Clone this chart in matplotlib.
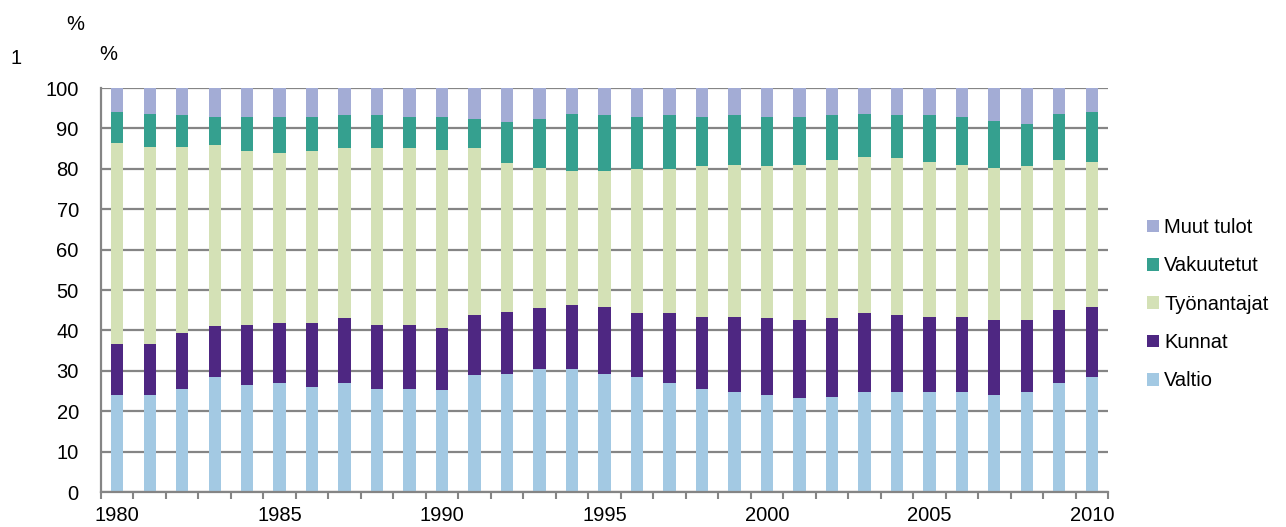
import matplotlib
matplotlib.use("Agg")
import matplotlib.pyplot as plt
import numpy as np

plt.rcParams['font.family'] = ['Liberation Sans', 'DejaVu Sans']

years = list(range(1980, 2011))

# shares in % (bottom to top)
valtio = [24.0, 24.0, 25.6, 28.5, 26.5, 26.9, 26.1, 26.9, 25.6, 25.6,
          25.2, 28.9, 29.3, 30.4, 30.4, 29.3, 28.5, 26.9, 25.6, 24.8,
          24.0, 23.2, 23.6, 24.8, 24.8, 24.8, 24.8, 24.0, 24.8, 26.9, 28.5]
kunnat = [12.6, 12.6, 13.8, 12.5, 14.9, 14.9, 15.7, 16.1, 15.8, 15.8,
          15.4, 14.9, 15.3, 15.1, 15.8, 16.6, 15.7, 17.3, 17.8, 18.6,
          19.0, 19.4, 19.4, 19.4, 19.0, 18.6, 18.6, 18.6, 17.8, 18.1, 17.4]
tyonantajat = [49.7, 48.9, 46.1, 44.9, 43.0, 42.1, 42.6, 42.1, 43.7, 43.7,
               44.1, 41.3, 36.8, 34.7, 33.3, 33.6, 35.7, 35.7, 37.2, 37.6,
               37.6, 38.4, 39.2, 38.8, 38.8, 38.4, 37.6, 37.6, 38.0, 37.2, 35.9]
vakuutetut = [7.7, 8.1, 7.7, 6.8, 8.3, 8.8, 8.3, 8.1, 8.1, 7.6,
              8.0, 7.2, 10.2, 12.1, 14.1, 13.7, 12.8, 13.3, 12.1, 12.2,
              12.1, 11.7, 11.0, 10.6, 10.6, 11.4, 11.7, 11.7, 10.6, 11.4, 12.2]
muut = [6.0, 6.4, 6.8, 7.3, 7.3, 7.3, 7.3, 6.8, 6.8, 7.3,
        7.3, 7.7, 8.4, 7.7, 6.4, 6.8, 7.3, 6.8, 7.3, 6.8,
        7.3, 7.3, 6.8, 6.4, 6.8, 6.8, 7.3, 8.1, 8.8, 6.4, 6.0]

series = [("Valtio", valtio, "#a3c9e3"),
          ("Kunnat", kunnat, "#4e2782"),
          ("Työnantajat", tyonantajat, "#d4e1b6"),
          ("Vakuutetut", vakuutetut, "#35a08f"),
          ("Muut tulot", muut, "#a3acd5")]

fs = 14.5

fig = plt.figure(figsize=(12.86, 5.27), dpi=100)
ax = fig.add_axes([101 / 1286, 1 - 492 / 527, (1108 - 101) / 1286, (492 - 88) / 527])

x = np.arange(len(years))
bottom = np.zeros(len(years))
handles = []
for name, vals, col in series:
    b = ax.bar(x, vals, 0.38, bottom=bottom, color=col, label=name, zorder=2)
    bottom += np.array(vals)
    handles.append(b)

grid_col = "#858585"
ax.set_ylim(0, 100)
ax.set_xlim(-0.5, len(years) - 0.5)
ax.set_yticks(range(0, 101, 10))
ax.yaxis.grid(True, color=grid_col, linewidth=1.6, zorder=0)
ax.set_axisbelow(True)
ax.tick_params(axis='y', length=0, labelsize=fs, pad=16)

ax.set_xticks(x[::5])
ax.set_xticklabels([str(y) for y in years[::5]], fontsize=fs)
ax.set_xticks(np.arange(-0.5, len(years), 1), minor=True)
ax.tick_params(axis='x', which='major', length=0, pad=10)
ax.tick_params(axis='x', which='minor', length=5, width=1.5, color=grid_col)

for s in ["top", "right"]:
    ax.spines[s].set_visible(False)
for s in ["left", "bottom"]:
    ax.spines[s].set_color(grid_col)
    ax.spines[s].set_linewidth(1.6)

leg = fig.legend(handles[::-1], [h.get_label() for h in handles[::-1]],
                 loc="upper left", bbox_to_anchor=(1139 / 1286, 1 - 210 / 527),
                 frameon=False, fontsize=fs, handlelength=0.6, handleheight=0.6,
                 handletextpad=0.25, labelspacing=0.96, borderaxespad=0)

fig.text(75 / 1286, 1 - 25 / 527, "%", fontsize=fs, ha="center", va="center")
fig.text(16 / 1286, 1 - 58 / 527, "1", fontsize=fs, ha="center", va="center")
fig.text(108 / 1286, 1 - 55 / 527, "%", fontsize=fs, ha="center", va="center")

fig.savefig("out.png", dpi=100)
